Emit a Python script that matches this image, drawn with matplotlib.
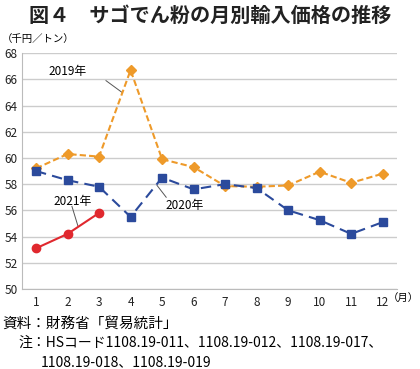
import matplotlib.pyplot as plt

plt.rcParams['font.family'] = ['Noto Sans CJK JP', 'DejaVu Sans']

months = list(range(1, 13))
price_2019 = [59.2, 60.3, 60.1, 66.7, 59.9, 59.3, 57.85, 57.8, 57.9, 58.95, 58.1, 58.8]
price_2020 = [59.0, 58.3, 57.8, 55.5, 58.5, 57.6, 58.0, 57.7, 56.0, 55.25, 54.2, 55.1]
months_2021 = [1, 2, 3]
price_2021 = [53.1, 54.2, 55.8]
yticks = list(range(50, 69, 2))

fig = plt.figure(figsize=(4.2, 3.69), dpi=100)
ax = fig.add_axes([0.052, 0.217, 0.893, 0.639])

ax.plot(months, price_2019, color='#EE9A2A', linestyle=(0, (3, 1.5)), linewidth=1.5,
        marker='D', markersize=5.5, zorder=3)
ax.plot(months, price_2020, color='#2B4A9C', linestyle=(0, (5, 3)), linewidth=1.5,
        marker='s', markersize=5.5, zorder=4)
ax.plot(months_2021, price_2021, color='#E0282E', linestyle='-', linewidth=1.5,
        marker='o', markersize=6, zorder=5)

ax.set_xlim(0.55, 12.45)
ax.set_ylim(50, 68)
ax.set_xticks(months)
ax.set_yticks(yticks)
ax.tick_params(axis='both', length=0, labelsize=8.5, colors='#222222')
ax.tick_params(axis='x', pad=5)
ax.tick_params(axis='y', pad=3)
ax.grid(axis='y', color='#CCCCCC', linewidth=1)
ax.set_axisbelow(True)
for s in ['top', 'right']:
    ax.spines[s].set_visible(False)
ax.spines['left'].set_color('#BBBBBB')
ax.spines['bottom'].set_color('#BBBBBB')

# 系列ラベルと引き出し線
ax.text(2.0, 66.6, '2019年', fontsize=8.5, ha='center', va='center')
ax.plot([3.22, 3.73], [65.9, 65.0], color='#555555', linewidth=0.7)
ax.text(5.7, 56.4, '2020年', fontsize=8.5, ha='center', va='center')
ax.plot([4.84, 5.13], [57.9, 57.0], color='#555555', linewidth=0.7)
ax.text(2.17, 56.7, '2021年', fontsize=8.5, ha='center', va='center')
ax.plot([2.14, 2.33], [56.3, 54.8], color='#555555', linewidth=0.7)

fig.text(0.5, 0.958, '図４　サゴでん粉の月別輸入価格の推移', fontsize=14.5,
         fontweight='bold', ha='center', va='center', color='#222222')
fig.text(0.005, 0.893, '（千円／トン）', fontsize=7.5, ha='left', va='center')
fig.text(0.998, 0.193, '（月）', fontsize=7.5, ha='right', va='center')

fig.text(0.005, 0.122, '資料：財務省「貿易統計」', fontsize=10.5, ha='left', va='center')
fig.text(0.043, 0.071, '注：HSコード1108.19-011、1108.19-012、1108.19-017、',
         fontsize=10, ha='left', va='center')
fig.text(0.098, 0.019, '1108.19-018、1108.19-019', fontsize=10, ha='left', va='center')

fig.savefig('out.png', dpi=100)
